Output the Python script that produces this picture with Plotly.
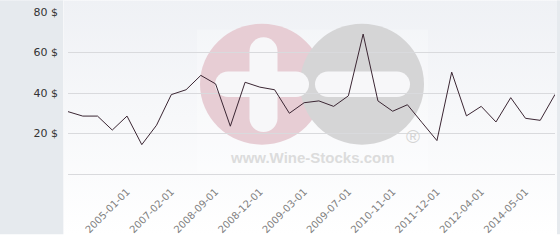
import base64
import plotly.graph_objects as go

# ---- data ----
dates = [
    "2004-01-01", "2004-04-01", "2004-07-01", "2004-10-01", "2005-01-01",
    "2005-09-01", "2006-06-01", "2007-02-01", "2007-09-01", "2008-04-01",
    "2008-09-01", "2008-10-01", "2008-11-01", "2008-12-01", "2009-01-01",
    "2009-02-01", "2009-03-01", "2009-04-01", "2009-05-01", "2009-07-01",
    "2010-01-01", "2010-06-01", "2010-11-01", "2011-03-01", "2011-08-01",
    "2011-12-01", "2012-01-01", "2012-02-01", "2012-04-01", "2013-01-01",
    "2013-09-01", "2014-05-01", "2015-01-01", "2015-09-01",
]
prices = [
    30.8, 28.6, 28.6, 21.7, 28.6, 14.5, 24.1, 39.2, 41.6, 48.7,
    44.5, 23.6, 45.3, 42.9, 41.6, 30.0, 35.2, 36.1, 33.4, 38.6,
    69.1, 36.1, 31.0, 34.2, 25.3, 16.5, 50.3, 28.7, 33.4, 25.7,
    37.7, 27.5, 26.5, 39.3,
]
x_tick_labels = [
    "2005-01-01", "2007-02-01", "2008-09-01", "2008-12-01", "2009-03-01",
    "2009-07-01", "2010-11-01", "2011-12-01", "2012-04-01", "2014-05-01",
]
y_tick_values = [20, 40, 60, 80]
y_tick_labels = ["20 $", "40 $", "60 $", "80 $"]

# ---- layout geometry ----
W, H = 560, 240
ML, MR, MT, MB = 68, 5, 12, 62
PW, PH = W - ML - MR, H - MT - MB

# background + watermark graphic (decoration, pixel space)
svg = f"""<svg xmlns='http://www.w3.org/2000/svg' width='{W}' height='{H}' viewBox='0 0 {W} {H}' preserveAspectRatio='none'>
<defs><linearGradient id='g' x1='0' y1='0' x2='0' y2='1'>
<stop offset='0' stop-color='#eff1f5'/><stop offset='1' stop-color='#ffffff'/></linearGradient></defs>
<rect x='0' y='0' width='{W}' height='{H}' fill='url(#g)'/>
<rect x='0' y='0' width='63' height='{H}' fill='#e6eaee'/>
<rect x='63' y='0' width='1' height='{H}' fill='#f6f7f9'/>
<rect x='557' y='0' width='3' height='{H}' fill='#e6eaee'/>
<rect x='197' y='30' width='231' height='146' fill='#ffffff' fill-opacity='0.25'/>
<circle cx='262' cy='86' r='62' fill='#e7cdd4'/>
<circle cx='362' cy='86' r='62' fill='#d5d5d6'/>
<rect x='249.5' y='38' width='28' height='97' rx='14' ry='14' fill='#f7f7f9'/>
<rect x='215' y='73' width='94' height='26' rx='13' ry='13' fill='#f7f7f9'/>
<rect x='315' y='73' width='95' height='26' rx='13' ry='13' fill='#f7f7f9'/>
</svg>"""
svg_uri = "data:image/svg+xml;base64," + base64.b64encode(svg.encode()).decode()

fig = go.Figure()
fig.add_trace(go.Scatter(
    x=dates, y=prices, mode="lines",
    line=dict(color="#3b2633", width=1),
    hoverinfo="x+y", showlegend=False,
))

fig.update_layout(
    width=W, height=H,
    margin=dict(l=ML, r=MR, t=MT, b=MB, pad=0),
    paper_bgcolor="#ffffff",
    plot_bgcolor="rgba(0,0,0,0)",
    font=dict(family="DejaVu Sans", size=11, color="#333333"),
    images=[dict(
        source=svg_uri, xref="paper", yref="paper",
        x=-ML / PW, y=(PH + MT) / PH, sizex=W / PW, sizey=H / PH,
        xanchor="left", yanchor="top", sizing="stretch", layer="below",
    )],
    xaxis=dict(
        type="category", categoryorder="array", categoryarray=dates,
        range=[0, len(dates) - 1],
        tickmode="array", tickvals=x_tick_labels, ticktext=x_tick_labels,
        tickangle=-45, tickfont=dict(family="DejaVu Sans", size=10, color="#808080"),
        showgrid=False, zeroline=False, showline=False, ticks="",
        ticklabelstandoff=9,
    ),
    yaxis=dict(
        range=[0, 80], tickmode="array", tickvals=y_tick_values,
        ticktext=y_tick_labels,
        tickfont=dict(family="DejaVu Sans", size=11, color="#333333"),
        showgrid=True, gridcolor="#d9dadd", gridwidth=1,
        zeroline=True, zerolinecolor="#d9dadd", zerolinewidth=1,
        showline=False, ticks="", ticklabelstandoff=9,
    ),
    annotations=[
        dict(text="<b>www.Wine-Stocks.com</b>", xref="paper", yref="paper",
             x=(312 - ML) / PW, y=(PH + MT - 161) / PH, showarrow=False,
             xanchor="center", yanchor="middle",
             font=dict(family="Liberation Sans", size=15, color="#dcdcdc")),
        dict(text="®", xref="paper", yref="paper",
             x=(412.5 - ML) / PW, y=(PH + MT - 140) / PH, showarrow=False,
             xanchor="center", yanchor="middle",
             font=dict(family="Liberation Sans", size=19, color="#d4d4d4")),
    ],
)

fig.write_html("out.html")
